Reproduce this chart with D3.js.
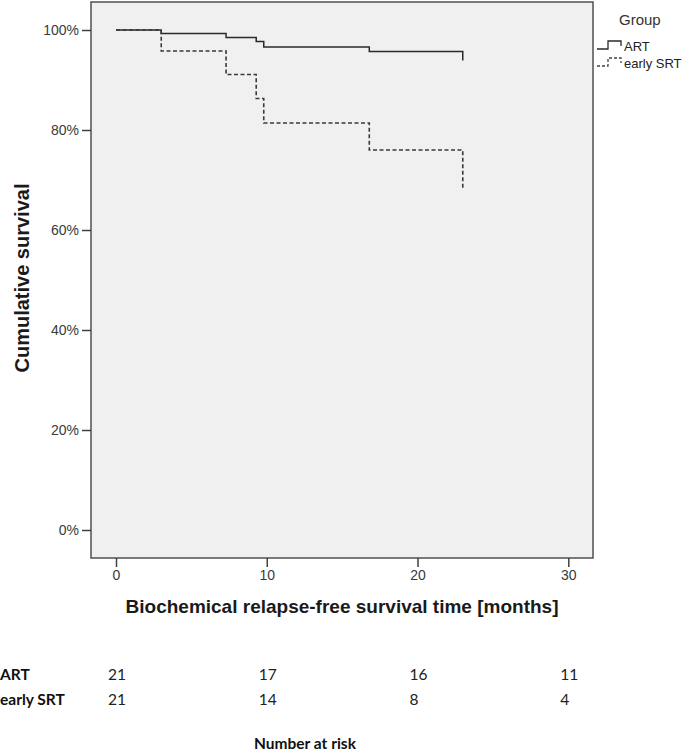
<!DOCTYPE html>
<html>
<head>
<meta charset="utf-8">
<script src="https://cdn.jsdelivr.net/npm/d3@7/dist/d3.min.js"></script>
<style>
  html, body { margin: 0; padding: 0; background: #fff; }
  svg { display: block; }
</style>
</head>
<body>
<svg id="chart" width="685" height="752"></svg>
<script>
// ---- data ----
const groups = ["ART", "early SRT"];
const artTimes = [0, 3.0, 7.3, 9.3, 9.8, 16.8, 23.0];
const artSurv  = [1.0, 0.993, 0.985, 0.977, 0.966, 0.957, 0.939];
const srtTimes = [0, 3.0, 7.3, 9.3, 9.8, 16.8, 23.0];
const srtSurv  = [1.0, 0.958, 0.911, 0.863, 0.814, 0.760, 0.680];
const xTicks = [0, 10, 20, 30];
const yTicks = [0, 0.2, 0.4, 0.6, 0.8, 1.0];
const riskTimes = [0, 10, 20, 30];
const artRisk = [21, 17, 16, 11];
const srtRisk = [21, 14, 8, 4];

// ---- layout ----
const svg = d3.select("#chart");
const box = {left: 91, right: 593, top: 2, bottom: 558};
const x = d3.scaleLinear().domain([0, 30]).range([116, 568.3]);
const y = d3.scaleLinear().domain([0, 1]).range([530, 30]);
const axisFont = "'Liberation Sans', Arial, sans-serif";
const tableFont = "Lato, 'Open Sans', sans-serif";

// plot background
svg.append("rect")
  .attr("x", box.left).attr("y", box.top)
  .attr("width", box.right - box.left).attr("height", box.bottom - box.top)
  .attr("fill", "#f0f0f0").attr("stroke", "#505050").attr("stroke-width", 1.5);

// y axis
const yAxis = d3.axisLeft(y).tickValues(yTicks).tickFormat(d3.format(".0%")).tickSize(9).tickPadding(3);
const gy = svg.append("g").attr("transform", `translate(${box.left},0)`).call(yAxis);
gy.select(".domain").remove();
gy.selectAll(".tick line").attr("stroke", "#404040").attr("stroke-width", 1.5);
gy.selectAll(".tick text").attr("fill", "#3a3a3a").style("font-family", axisFont).style("font-size", "14px");

// x axis
const xAxis = d3.axisBottom(x).tickValues(xTicks).tickFormat(d3.format("d")).tickSize(9).tickPadding(3);
const gx = svg.append("g").attr("transform", `translate(0,${box.bottom})`).call(xAxis);
gx.select(".domain").remove();
gx.selectAll(".tick line").attr("stroke", "#404040").attr("stroke-width", 1.5);
gx.selectAll(".tick text").attr("fill", "#3a3a3a").style("font-family", axisFont).style("font-size", "14px");

// axis titles
svg.append("text")
  .attr("transform", "translate(29,278) rotate(-90)")
  .attr("text-anchor", "middle")
  .style("font-family", axisFont).style("font-weight", "bold").style("font-size", "20px")
  .attr("fill", "#1a1a1a")
  .text("Cumulative survival");
svg.append("text")
  .attr("x", 342).attr("y", 613)
  .attr("text-anchor", "middle")
  .style("font-family", axisFont).style("font-weight", "bold").style("font-size", "19px")
  .attr("fill", "#1a1a1a")
  .text("Biochemical relapse-free survival time [months]");

// survival curves
const line = d3.line().x(d => x(d[0])).y(d => y(d[1])).curve(d3.curveStepAfter);
const artData = artTimes.map((t, i) => [t, artSurv[i]]);
const srtData = srtTimes.map((t, i) => [t, srtSurv[i]]);
svg.append("path").datum(artData).attr("d", line)
  .attr("fill", "none").attr("stroke", "#2a2a2a").attr("stroke-width", 1.5);
svg.append("path").datum(srtData).attr("d", line)
  .attr("fill", "none").attr("stroke", "#3a3a3a").attr("stroke-width", 1.6)
  .attr("stroke-dasharray", "4,2.5");

// legend
svg.append("text").attr("x", 619).attr("y", 25)
  .style("font-family", axisFont).style("font-size", "15px").attr("fill", "#333")
  .text("Group");
const legendStyles = [{dash: null, color: "#2a2a2a"}, {dash: "3,2", color: "#444"}];
groups.forEach((g, i) => {
  const ly = 48 + i * 17;
  const sym = d3.path();
  sym.moveTo(597, ly + 1);
  sym.lineTo(608, ly + 1);
  sym.lineTo(608, ly - 7);
  sym.lineTo(621, ly - 7);
  sym.lineTo(621, ly - 2);
  svg.append("path").attr("d", sym.toString())
    .attr("fill", "none").attr("stroke", legendStyles[i].color).attr("stroke-width", 1.3)
    .attr("stroke-dasharray", legendStyles[i].dash);
  svg.append("text").attr("x", 624).attr("y", ly + 3)
    .style("font-family", axisFont).style("font-size", "13px").attr("fill", "#222")
    .text(g);
});

// number at risk table
const rows = [{name: groups[0], vals: artRisk, y: 680}, {name: groups[1], vals: srtRisk, y: 705}];
rows.forEach(r => {
  svg.append("text").attr("x", 0).attr("y", r.y)
    .style("font-family", tableFont).style("font-weight", "bold").style("font-size", "15.5px")
    .attr("fill", "#111").text(r.name);
  svg.selectAll(null).data(riskTimes).enter().append("text")
    .attr("x", (d) => x(d) - 8).attr("y", r.y)
    .style("font-family", tableFont).style("font-size", "15.5px").attr("fill", "#222")
    .text((d, i) => r.vals[i]);
});
svg.append("text").attr("x", 305).attr("y", 749)
  .attr("text-anchor", "middle")
  .style("font-family", tableFont).style("font-weight", "bold").style("font-size", "15.5px")
  .attr("fill", "#111").text("Number at risk");
</script>
</body>
</html>
